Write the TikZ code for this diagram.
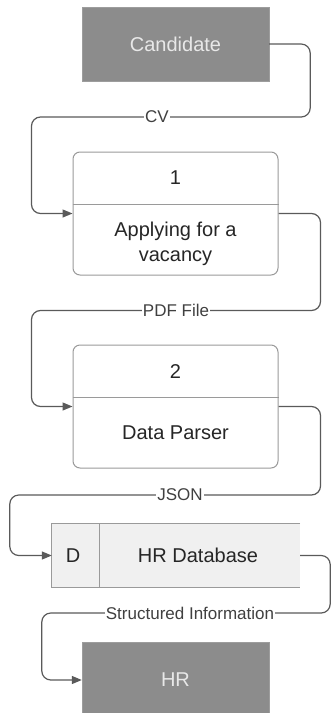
\documentclass[tikz,border=0pt]{standalone}
\usepackage{fontspec}
\setmainfont{Liberation Sans}
\usetikzlibrary{arrows.meta,calc}
\definecolor{extgray}{HTML}{8C8C8C}
\definecolor{exttext}{HTML}{E8E8E8}
\definecolor{linegray}{HTML}{5A5A5A}
\definecolor{boxborder}{HTML}{9A9A9A}
\definecolor{dbfill}{HTML}{F0F0F0}
\begin{document}
\begin{tikzpicture}[x=1pt,y=-1pt,
  entity/.style={fill=extgray, draw=extgray!85, text=exttext, minimum width=187pt, inner sep=0pt, font=\fontsize{20}{24}\selectfont},
  process/.style={draw=boxborder, rounded corners=7pt, minimum width=205pt, minimum height=123pt, line width=1pt},
  conn/.style={draw=linegray, line width=1.2pt, rounded corners=9pt, -{Triangle[length=10pt,width=8pt]}},
  flowlabel/.style={fill=white, inner sep=1pt, font=\fontsize{17}{20}\selectfont, text=black!75},
  btext/.style={font=\fontsize{20}{25}\selectfont, text=black!85, align=center},
  divider/.style={draw=boxborder, line width=1pt}]
\useasboundingbox (0,0) rectangle (333,713);
\fill[white] (0,0) rectangle (333,713);
% external entities
\node[entity, minimum height=74pt] (cand) at (175.5,44) {Candidate};
\node[entity, minimum height=76pt] (hr) at (175.5,680) {HR};
% process 1
\node[process] (p1) at (175.5,213.5) {};
\draw[divider] ($(p1.north west)!0.43!(p1.south west)$) -- ($(p1.north east)!0.43!(p1.south east)$);
\node[btext] (p1num) at (175.5,178) {1};
\node[btext] (p1name) at (175.5,244) {Applying for a\\vacancy};
% process 2
\node[process] (p2) at (175.5,406.5) {};
\draw[divider] ($(p2.north west)!0.43!(p2.south west)$) -- ($(p2.north east)!0.43!(p2.south east)$);
\node[btext] (p2num) at (175.5,372) {2};
\node[btext] (p2name) at (175.5,433) {Data Parser};
% data store
\node[fill=dbfill, minimum width=248pt, minimum height=63pt, inner sep=0pt] (db) at (176,555.5) {};
\draw[divider] (db.north east) -- (db.north west) -- (db.south west) -- (db.south east);
\draw[divider] ($(db.north west)+(48,0)$) -- ($(db.south west)+(48,0)$);
\node[btext] (dbid) at (73,555.5) {D};
\node[btext] (dbname) at (198,555.5) {HR Database};
% flows
\draw[conn] (cand.east) -- ++(41,0) -- ++(0,73) -| ($(p1.west)+(-41,0)$) -- (p1.west);
\node[flowlabel] (lcv) at (157,117) {CV};
\draw[conn] (p1.east) -- ++(42,0) -- ++(0,97) -| ($(p2.west)+(-41,0)$) -- (p2.west);
\node[flowlabel] (lpdf) at (176,310) {PDF File};
\draw[conn] (p2.east) -- ++(42,0) -- ++(0,88.5) -| ($(db.west)+(-42,0)$) -- (db.west);
\node[flowlabel] (ljson) at (180,495) {JSON};
\draw[conn] (db.east) -- ++(30,0) -- ++(0,57.5) -| ($(hr.west)+(-40,0)$) -- (hr.west);
\node[flowlabel] (lsi) at (190,613) {Structured Information};
\end{tikzpicture}
\end{document}
